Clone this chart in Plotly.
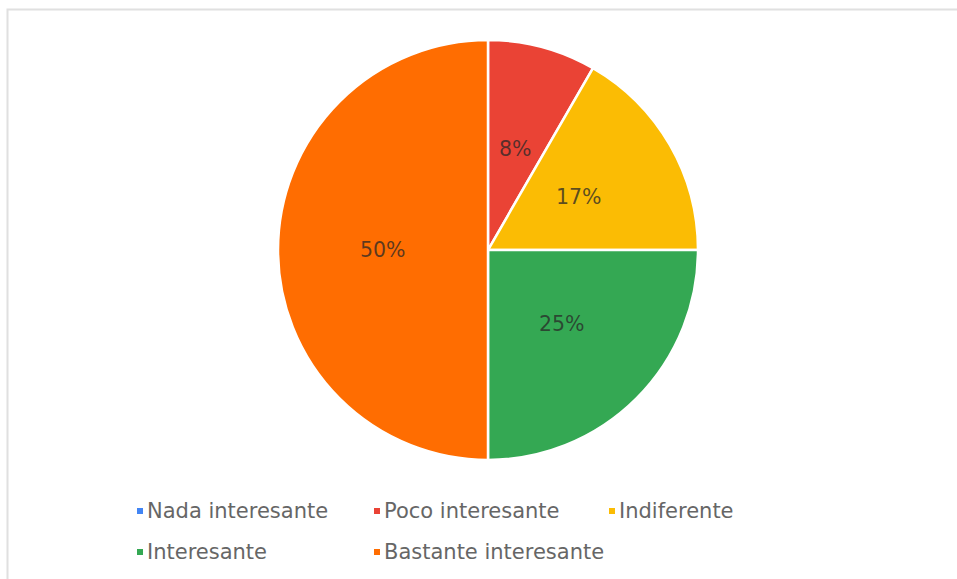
import math
import plotly.graph_objects as go

# Survey responses: how interesting the activity was
categories = ["Nada interesante", "Poco interesante", "Indiferente", "Interesante", "Bastante interesante"]
responses = [0, 1, 2, 3, 6]
colors = ["#4285f4", "#ea4335", "#fbbc04", "#34a853", "#ff6d01"]

W, H = 957, 579
CX, CY, R = 488, 250, 210  # pie centre and radius in pixels


def px(x):
    return x / W


def py(y):
    return 1 - y / H


fig = go.Figure(
    go.Pie(
        labels=categories,
        values=responses,
        sort=False,
        direction="clockwise",
        rotation=0,
        marker=dict(colors=colors, line=dict(color="white", width=2.5)),
        textinfo="none",
        hoverinfo="label+value+percent",
        showlegend=False,
        domain=dict(x=[px(CX - R), px(CX + R)], y=[py(CY + R), py(CY - R)]),
    )
)

annotations = []
shapes = []

# Percentage labels placed halfway along each slice's mid-angle
total = sum(responses)
cum = 0
for v in responses:
    if v > 0:
        mid = (cum + v / 2) / total * 2 * math.pi
        lx = CX + 0.5 * R * math.sin(mid)
        ly = CY - 0.5 * R * math.cos(mid)
        annotations.append(dict(
            x=px(lx), y=py(ly), xref="paper", yref="paper",
            text=f"{round(v / total * 100)}%", showarrow=False,
            xanchor="center", yanchor="middle",
            font=dict(family="DejaVu Sans", size=20.5, color="rgba(40,40,40,0.75)"),
        ))
    cum += v

# Legend laid out in two rows below the pie
legend_slots = [(140, 511), (377, 511), (612, 511), (140, 552), (377, 552)]
for name, col, (lx, ly) in zip(categories, colors, legend_slots):
    shapes.append(dict(
        type="rect", xref="paper", yref="paper",
        x0=px(lx - 3), x1=px(lx + 3), y0=py(ly + 3), y1=py(ly - 3),
        fillcolor=col, line=dict(width=0),
    ))
    annotations.append(dict(
        x=px(lx + 5), y=py(ly), xref="paper", yref="paper",
        text=name, showarrow=False, xanchor="left", yanchor="middle",
        font=dict(family="DejaVu Sans", size=21, color="#666666"),
    ))

# Light frame around the chart area
shapes.append(dict(
    type="rect", xref="paper", yref="paper",
    x0=px(7.5), x1=px(W + 10), y0=py(H + 10), y1=py(9.5),
    line=dict(color="#e0e0e0", width=2), fillcolor="rgba(0,0,0,0)",
))

fig.update_layout(
    width=W, height=H,
    margin=dict(l=0, r=0, t=0, b=0),
    paper_bgcolor="white", plot_bgcolor="white",
    annotations=annotations, shapes=shapes,
    showlegend=False,
)

fig.write_html("out.html")
